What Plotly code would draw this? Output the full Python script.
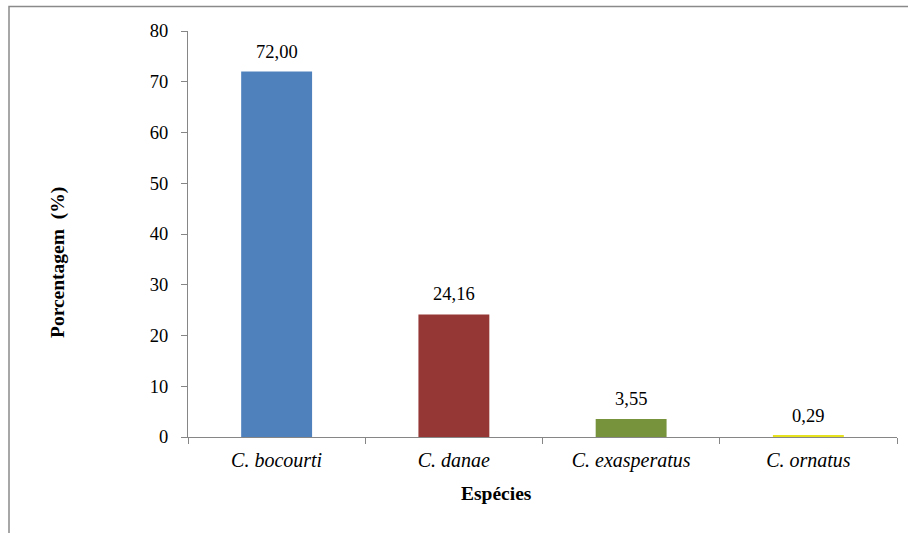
import plotly.graph_objects as go

# Species and their percentages
especies = ["C. bocourti", "C. danae", "C. exasperatus", "C. ornatus"]
porcentagem = [72.00, 24.16, 3.55, 0.29]
cores = ["#4F81BD", "#953735", "#77933C", "#E6E21E"]
y_ticks = [0, 10, 20, 30, 40, 50, 60, 70, 80]

FONT = "Liberation Serif, Times New Roman, serif"
W, H = 908, 533
L, R, T, B = 188, 11, 31, 96
PW, PH = W - L - R, H - T - B


def px_x(px):
    return (px - L) / PW


def px_y(py):
    return (H - B - py) / PH


fig = go.Figure()
fig.add_trace(go.Bar(
    x=especies,
    y=porcentagem,
    marker=dict(color=cores, line=dict(width=0)),
    hoverinfo="skip",
))

# value labels above each bar
for esp, val in zip(especies, porcentagem):
    fig.add_annotation(
        x=esp, y=val, xref="x", yref="y",
        text=f"{val:.2f}".replace(".", ","),
        showarrow=False, yanchor="bottom", yshift=8,
        font=dict(family=FONT, size=18.5, color="#000000"),
    )

# axis titles
fig.add_annotation(
    x=px_x(58), y=px_y(263), xref="paper", yref="paper",
    xanchor="center", yanchor="middle",
    text="<b>Porcentagem  (%)</b>", textangle=-90, showarrow=False,
    font=dict(family=FONT, size=19.5, color="#000000"),
)
fig.add_annotation(
    x=px_x(496), y=px_y(494), xref="paper", yref="paper",
    xanchor="center", yanchor="middle",
    text="<b>Espécies</b>", showarrow=False,
    font=dict(family=FONT, size=19.5, color="#000000"),
)

# chart frame
fig.add_shape(
    type="rect", xref="paper", yref="paper",
    x0=px_x(9), x1=px_x(W + 20), y0=px_y(6.5), y1=px_y(H + 20),
    line=dict(color="#8A8A8A", width=1.5), fillcolor="rgba(0,0,0,0)",
    layer="below",
)

fig.update_layout(
    width=W, height=H,
    margin=dict(l=L, r=R, t=T, b=B),
    paper_bgcolor="white", plot_bgcolor="white",
    bargap=0.6, showlegend=False,
    font=dict(family=FONT, size=18.5, color="#000000"),
)
fig.update_xaxes(
    type="category", range=[-0.5, 3.5],
    showline=True, linecolor="#868686", linewidth=1,
    ticks="outside", tickson="boundaries", ticklen=6, tickcolor="#868686",
    showgrid=False, zeroline=False,
    tickfont=dict(family=FONT, size=20, style="italic"),
    ticklabelstandoff=5,
)
fig.update_yaxes(
    range=[0, 80], tickvals=y_ticks,
    showline=True, linecolor="#868686", linewidth=1,
    ticks="outside", ticklen=6, tickcolor="#868686",
    showgrid=False, zeroline=False,
    tickfont=dict(family=FONT, size=18.5),
    ticklabelstandoff=9,
)

fig.write_html("out.html")
